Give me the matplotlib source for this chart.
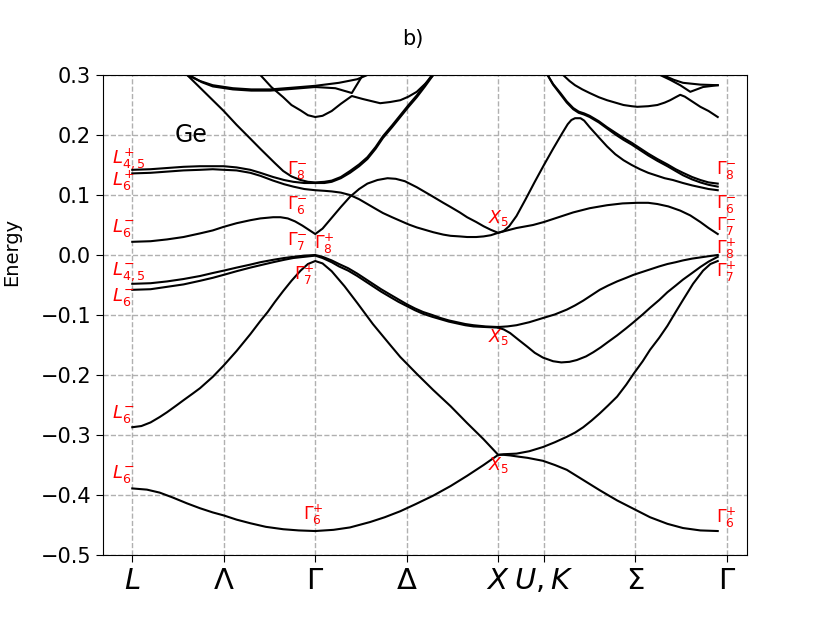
import matplotlib
matplotlib.use('Agg')
import matplotlib.pyplot as plt

# k-path ticks
tick_pos = [0.0, 0.5, 1.0, 1.5, 2.0, 2.25, 2.75, 3.25]
tick_lab = [r'$L$', r'$\Lambda$', r'$\Gamma$', r'$\Delta$', r'$X$', r'$U,K$', r'$\Sigma$', r'$\Gamma$']

# valence bands
v1_k = [0, 0.08, 0.15, 0.22, 0.3, 0.37, 0.44, 0.5, 0.57, 0.645, 0.73, 0.825, 0.91, 1.0, 1.1, 1.19, 1.3, 1.38,
        1.465, 1.55, 1.645, 1.74, 1.83, 1.92, 2.0,
        2.03, 2.1, 2.17, 2.245, 2.31, 2.375, 2.42, 2.465, 2.51, 2.555, 2.6, 2.65, 2.7, 2.74, 2.79, 2.83, 2.88,
        2.925, 2.97, 3.01, 3.065, 3.12, 3.16, 3.2]
v1_e = [-0.389, -0.391, -0.396, -0.404, -0.414, -0.422, -0.429, -0.434, -0.441, -0.447, -0.453, -0.457, -0.459,
        -0.46, -0.458, -0.454, -0.445, -0.437, -0.427, -0.415, -0.401, -0.385, -0.368, -0.35, -0.333,
        -0.332, -0.331, -0.327, -0.32, -0.312, -0.303, -0.296, -0.287, -0.276, -0.264, -0.251, -0.236, -0.216,
        -0.198, -0.177, -0.158, -0.138, -0.118, -0.095, -0.075, -0.048, -0.026, -0.015, -0.01]

v2_k = [0, 0.05, 0.1, 0.15, 0.19, 0.24, 0.28, 0.33, 0.37, 0.44, 0.5, 0.57, 0.645, 0.7, 0.74, 0.78, 0.825, 0.87,
        0.92, 0.96, 1.0, 1.04, 1.09, 1.16, 1.23, 1.315, 1.41, 1.465, 1.555, 1.645, 1.74, 1.83, 1.92, 2.0,
        2.03, 2.065, 2.11, 2.16, 2.245, 2.31, 2.375, 2.465, 2.555, 2.65, 2.74, 2.83, 2.925, 3.01, 3.105, 3.2]
v2_e = [-0.287, -0.285, -0.279, -0.27, -0.262, -0.251, -0.242, -0.231, -0.222, -0.203, -0.184, -0.16, -0.132,
        -0.11, -0.095, -0.078, -0.06, -0.043, -0.026, -0.015, -0.01, -0.014, -0.027, -0.052, -0.08, -0.115,
        -0.15, -0.17, -0.198, -0.225, -0.252, -0.28, -0.307, -0.333,
        -0.333, -0.334, -0.336, -0.338, -0.343, -0.35, -0.358, -0.375, -0.392, -0.409, -0.423, -0.437, -0.448,
        -0.455, -0.459, -0.46]

hh_k = [0, 0.1, 0.19, 0.28, 0.37, 0.44, 0.5, 0.57, 0.645, 0.7, 0.77, 0.83, 0.88, 0.94, 1.0, 1.04, 1.09, 1.13,
        1.18, 1.23, 1.27, 1.315, 1.36, 1.41, 1.455, 1.5, 1.545, 1.59, 1.64, 1.685, 1.73, 1.775, 1.82, 1.865,
        1.93, 2.0]
v3_e = [-0.048, -0.047, -0.044, -0.04, -0.035, -0.03, -0.026, -0.021, -0.016, -0.012, -0.008, -0.005, -0.003,
        -0.001, 0.0, -0.003, -0.009, -0.015, -0.022, -0.031, -0.039, -0.048, -0.057, -0.066, -0.074, -0.082,
        -0.089, -0.095, -0.1, -0.105, -0.109, -0.112, -0.115, -0.117, -0.119, -0.12]
v4_e = [-0.058, -0.057, -0.053, -0.049, -0.043, -0.038, -0.033, -0.027, -0.021, -0.017, -0.012, -0.008, -0.005,
        -0.003, -0.001, -0.005, -0.012, -0.019, -0.026, -0.035, -0.043, -0.052, -0.061, -0.07, -0.078, -0.085,
        -0.092, -0.098, -0.103, -0.107, -0.111, -0.114, -0.117, -0.119, -0.12, -0.121]

# X -> Gamma, heavy-hole branches
v3r_k = [2.0, 2.05, 2.1, 2.17, 2.245, 2.31, 2.375, 2.42, 2.465, 2.51, 2.555, 2.6, 2.65, 2.7, 2.74, 2.79, 2.83,
         2.88, 2.925, 2.97, 3.01, 3.06, 3.105, 3.15, 3.2]
v3r_e = [-0.12, -0.119, -0.117, -0.112, -0.105, -0.099, -0.091, -0.084, -0.076, -0.067, -0.058, -0.051, -0.044,
         -0.038, -0.033, -0.028, -0.024, -0.019, -0.015, -0.012, -0.009, -0.006, -0.004, -0.002, 0.0]
v4r_k = [2.0, 2.03, 2.065, 2.11, 2.16, 2.2, 2.245, 2.3, 2.345, 2.39, 2.43, 2.48, 2.52, 2.56, 2.6, 2.65, 2.7,
         2.74, 2.79, 2.83, 2.88, 2.925, 2.97, 3.01, 3.06, 3.105, 3.15, 3.2]
v4r_e = [-0.121, -0.124, -0.13, -0.141, -0.153, -0.163, -0.171, -0.177, -0.179, -0.178, -0.175, -0.169, -0.162,
         -0.154, -0.145, -0.134, -0.122, -0.112, -0.099, -0.088, -0.075, -0.062, -0.051, -0.041, -0.03, -0.02,
         -0.011, -0.003]

# conduction bands
c1_k = [0, 0.1, 0.19, 0.28, 0.37, 0.44, 0.5, 0.57, 0.645, 0.7, 0.77, 0.81, 0.85, 0.89, 0.93, 0.97, 1.0, 1.04,
        1.09, 1.14, 1.19, 1.24, 1.285, 1.34, 1.395, 1.44, 1.49, 1.555, 1.6, 1.645, 1.7, 1.74, 1.79, 1.83, 1.88,
        1.92, 1.96, 2.0, 2.05, 2.1, 2.19, 2.25, 2.33, 2.41, 2.5, 2.595, 2.68, 2.76, 2.82, 2.87, 2.93, 2.995,
        3.05, 3.105, 3.15, 3.2]
c1_e = [0.022, 0.023, 0.026, 0.03, 0.036, 0.041, 0.047, 0.053, 0.058, 0.061, 0.063, 0.063, 0.061, 0.056, 0.049,
        0.041, 0.035, 0.044, 0.062, 0.08, 0.097, 0.11, 0.119, 0.125, 0.128, 0.127, 0.123, 0.113, 0.105, 0.097,
        0.087, 0.08, 0.071, 0.063, 0.055, 0.048, 0.042, 0.037, 0.041, 0.045, 0.05, 0.055, 0.063, 0.071, 0.078,
        0.083, 0.086, 0.087, 0.087, 0.085, 0.081, 0.074, 0.066, 0.055, 0.045, 0.035]

c2_k = [0, 0.1, 0.19, 0.28, 0.37, 0.44, 0.5, 0.57, 0.645, 0.7, 0.77, 0.83, 0.88, 0.94, 1.0, 1.05, 1.09, 1.14,
        1.19, 1.24, 1.285, 1.33, 1.37, 1.42, 1.465, 1.51, 1.555, 1.6, 1.645, 1.7, 1.74, 1.79, 1.83, 1.88, 1.92,
        1.96, 2.0, 2.03, 2.06, 2.1, 2.15, 2.2, 2.25, 2.3, 2.35, 2.38, 2.4, 2.42, 2.45, 2.47, 2.5, 2.55, 2.595,
        2.64, 2.685, 2.73, 2.775, 2.82, 2.87, 2.91, 2.955, 3.01, 3.06, 3.105, 3.15, 3.2]
c2_e = [0.136, 0.137, 0.139, 0.141, 0.142, 0.143, 0.142, 0.141, 0.137, 0.132, 0.124, 0.118, 0.114, 0.11, 0.108,
        0.107, 0.106, 0.104, 0.1, 0.093, 0.085, 0.077, 0.07, 0.063, 0.057, 0.051, 0.046, 0.042, 0.038, 0.034,
        0.032, 0.031, 0.03, 0.03, 0.031, 0.033, 0.037, 0.04, 0.048, 0.065, 0.093, 0.122, 0.15, 0.177, 0.203,
        0.218, 0.225, 0.228, 0.228, 0.224, 0.213, 0.196, 0.181, 0.168, 0.158, 0.15, 0.143, 0.137, 0.132, 0.128,
        0.125, 0.12, 0.116, 0.113, 0.11, 0.108]

c3_k = [0, 0.1, 0.19, 0.28, 0.37, 0.44, 0.5, 0.57, 0.645, 0.7, 0.77, 0.83, 0.88, 0.94, 1.0, 1.05, 1.09, 1.14,
        1.19, 1.24, 1.285, 1.33, 1.37, 1.42, 1.465, 1.51, 1.555, 1.6, 1.645]
c3_e = [0.142, 0.143, 0.145, 0.147, 0.148, 0.148, 0.148, 0.146, 0.142, 0.137, 0.13, 0.125, 0.122, 0.12, 0.12,
        0.12, 0.122, 0.128, 0.137, 0.148, 0.16, 0.177, 0.195, 0.213, 0.23, 0.247, 0.263, 0.281, 0.3]

c4_k = [0.3, 0.4, 0.5, 0.57, 0.645, 0.7, 0.74, 0.78, 0.825, 0.87, 0.92, 0.96, 1.0, 1.05, 1.09, 1.14, 1.19, 1.24,
        1.285, 1.33, 1.37, 1.42, 1.465, 1.51, 1.555, 1.6, 1.645]
c4_e = [0.3, 0.27, 0.24, 0.217, 0.194, 0.177, 0.165, 0.153, 0.14, 0.131, 0.125, 0.122, 0.121, 0.122, 0.124,
        0.13, 0.14, 0.151, 0.163, 0.18, 0.198, 0.216, 0.233, 0.25, 0.266, 0.284, 0.303]

c5_k = [2.27, 2.3, 2.34, 2.375, 2.41, 2.44, 2.47, 2.5, 2.55, 2.595, 2.64, 2.685, 2.73, 2.775, 2.82, 2.87, 2.925,
        2.97, 3.01, 3.06, 3.105, 3.15, 3.2]
c5_e = [0.3, 0.285, 0.27, 0.256, 0.245, 0.239, 0.236, 0.232, 0.223, 0.213, 0.204, 0.195, 0.187, 0.178, 0.169,
        0.16, 0.151, 0.143, 0.137, 0.13, 0.125, 0.121, 0.119]
c5b_e = [0.3, 0.284, 0.268, 0.254, 0.243, 0.237, 0.234, 0.23, 0.221, 0.211, 0.201, 0.192, 0.184, 0.175, 0.166,
         0.157, 0.148, 0.14, 0.133, 0.126, 0.121, 0.117, 0.114]

c6_k = [2.355, 2.39, 2.42, 2.46, 2.5, 2.55, 2.595, 2.64, 2.685, 2.73, 2.76, 2.82, 2.87, 2.91, 2.94, 2.97, 2.995,
        3.02, 3.05, 3.08, 3.105, 3.15, 3.2]
c6_e = [0.3, 0.29, 0.283, 0.276, 0.27, 0.263, 0.258, 0.254, 0.25, 0.248, 0.247, 0.248, 0.25, 0.254, 0.258, 0.263,
        0.267, 0.264, 0.258, 0.252, 0.247, 0.24, 0.23]

c7_k = [2.885, 2.94, 2.995, 3.05, 3.12, 3.2]
c7_e = [0.3, 0.292, 0.283, 0.272, 0.28, 0.283]
c8_k = [2.9, 2.96, 3.01, 3.105, 3.2]
c8_e = [0.3, 0.292, 0.287, 0.284, 0.283]

t1_k = [0.3, 0.37, 0.44, 0.55, 0.65, 0.755, 0.88, 1.0, 1.13, 1.23, 1.285]
t1_e = [0.3, 0.29, 0.283, 0.278, 0.276, 0.276, 0.279, 0.282, 0.287, 0.293, 0.3]
t1b_k = [0.31, 0.38, 0.44, 0.55, 0.65, 0.755, 0.88, 1.0, 1.11, 1.2, 1.26]
t1b_e = [0.3, 0.288, 0.281, 0.276, 0.274, 0.274, 0.277, 0.28, 0.278, 0.27, 0.3]
t2_k = [0.7, 0.76, 0.825, 0.87, 0.92, 0.96, 1.0, 1.04, 1.09, 1.14, 1.2, 1.26, 1.355, 1.41, 1.465, 1.51, 1.555,
        1.6, 1.645]
t2_e = [0.3, 0.28, 0.263, 0.25, 0.241, 0.233, 0.23, 0.232, 0.24, 0.252, 0.265, 0.26, 0.253, 0.255, 0.258, 0.264,
        0.272, 0.285, 0.3]

bands = [(v1_k, v1_e), (v2_k, v2_e), (hh_k, v3_e), (hh_k, v4_e), (v3r_k, v3r_e), (v4r_k, v4r_e),
         (c1_k, c1_e), (c2_k, c2_e), (c3_k, c3_e), (c4_k, c4_e),
         (c5_k, c5_e), (c5_k, c5b_e), (c6_k, c6_e), (c7_k, c7_e), (c8_k, c8_e),
         (t1_k, t1_e), (t1b_k, t1b_e), (t2_k, t2_e)]

# symmetry labels (text, k, E)
L_labels = [
    (r'$L_{4,5}^{+}$', 0.161), (r'$L_6^{+}$', 0.124), (r'$L_6^{-}$', 0.045),
    (r'$L_{4,5}^{-}$', -0.027), (r'$L_6^{-}$', -0.07), (r'$L_6^{-}$', -0.265), (r'$L_6^{-}$', -0.365),
]
pt_labels = [
    (r'$\Gamma_8^{-}$', 0.9, 0.142), (r'$\Gamma_6^{-}$', 0.9, 0.083), (r'$\Gamma_7^{-}$', 0.9, 0.024),
    (r'$\Gamma_8^{+}$', 1.05, 0.018), (r'$\Gamma_7^{+}$', 0.94, -0.033), (r'$\Gamma_6^{+}$', 0.99, -0.433),
    (r'$X_5$', 2.0, 0.062), (r'$X_5$', 2.0, -0.137), (r'$X_5$', 2.0, -0.35),
    (r'$\Gamma_8^{-}$', 3.245, 0.142), (r'$\Gamma_6^{-}$', 3.245, 0.085), (r'$\Gamma_7^{-}$', 3.245, 0.048),
    (r'$\Gamma_8^{+}$', 3.245, 0.01), (r'$\Gamma_7^{+}$', 3.245, -0.028), (r'$\Gamma_6^{+}$', 3.245, -0.438),
]

fig = plt.figure(figsize=(8.3, 6.23), dpi=100)
ax = fig.add_axes([0.1241, 0.1091, 0.7759, 0.7705])

for k, e in bands:
    ax.plot(k, e, color='black', lw=1.5)

for txt, e in L_labels:
    ax.text(-0.11, e, txt, color='red', fontsize=13, ha='left', va='center')
for txt, k, e in pt_labels:
    ax.text(k, e, txt, color='red', fontsize=12.5, ha='center', va='center')

ax.text(0.32, 0.2, 'Ge', fontsize=17, ha='center', va='center')

ax.set_ylim(-0.5, 0.3)
ax.set_xticks(tick_pos)
ax.set_xticklabels(tick_lab, fontsize=21)
ax.tick_params(axis='y', labelsize=15)
ax.tick_params(length=5)
ax.grid(True, linestyle='--', color='#b0b0b0', linewidth=1)
fig.text(12 / 830, 1 - 252 / 623, 'Energy', rotation=90, fontsize=14, ha='center', va='center')
fig.text(0.497, 1 - 45 / 623, 'b)', fontsize=15, ha='center', va='baseline')

fig.savefig('out.png', dpi=100)
